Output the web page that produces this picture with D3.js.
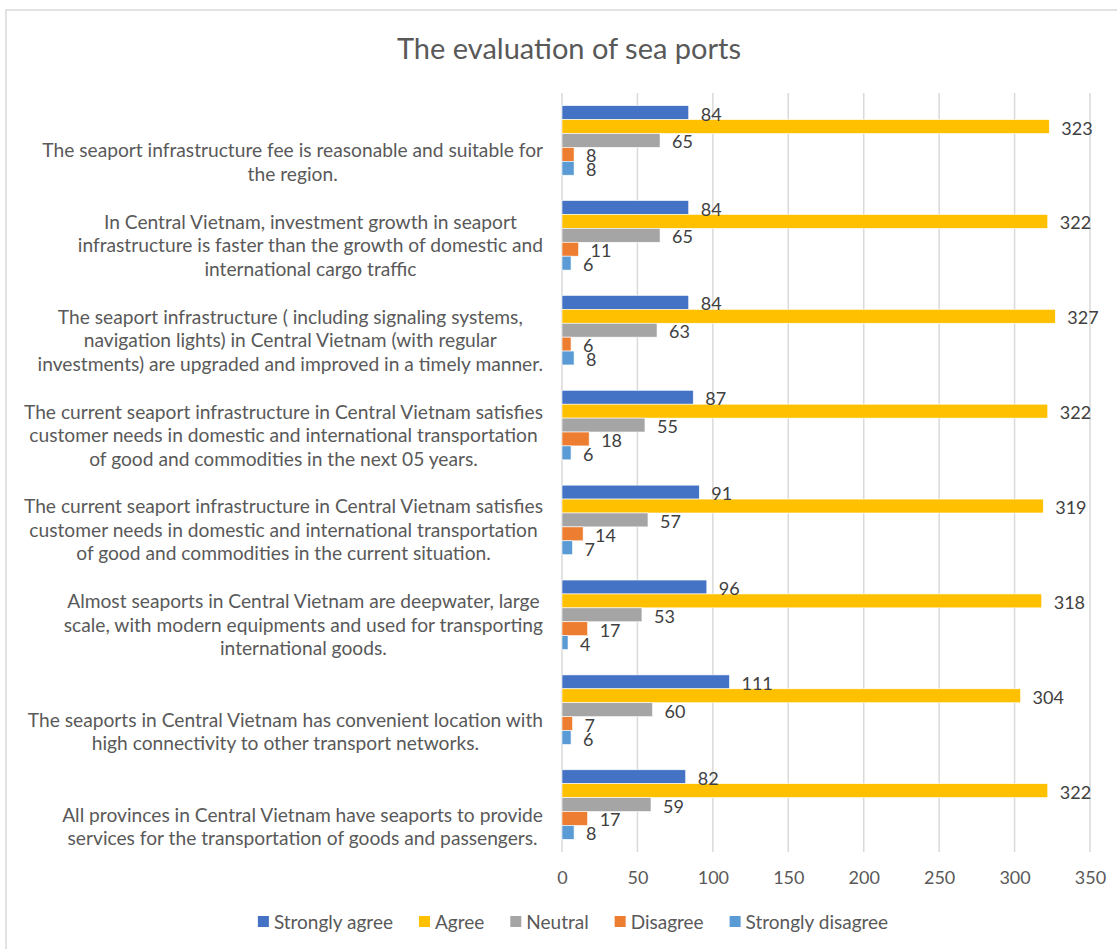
<!DOCTYPE html>
<html>
<head>
<meta charset="utf-8">
<script src="https://cdn.jsdelivr.net/npm/d3@7/dist/d3.min.js"></script>
<style>
  html, body { margin: 0; padding: 0; background: #fff; }
  svg { display: block; }
  text { font-family: Lato, "Open Sans", sans-serif; fill: #595959; }
</style>
</head>
<body>
<svg id="chart" width="1117" height="949"></svg>
<script>
// Survey statements, listed top to bottom, each split into its display lines
const categoryLines = [
  ["The seaport infrastructure fee is reasonable and suitable for", "the region."],
  ["In Central Vietnam, investment growth in seaport", "infrastructure is faster than the growth of domestic and", "international cargo traffic"],
  ["The seaport infrastructure ( including signaling systems,", "navigation lights) in Central Vietnam (with regular", "investments) are upgraded and improved in a timely manner."],
  ["The current seaport infrastructure in Central Vietnam satisfies", "customer needs in domestic and international transportation", "of good and commodities in the next 05 years."],
  ["The current seaport infrastructure in Central Vietnam satisfies", "customer needs in domestic and international transportation", "of good and commodities in the current situation."],
  ["Almost seaports in Central Vietnam are deepwater, large", "scale, with modern equipments and used for transporting", "international goods."],
  ["The seaports in Central Vietnam has convenient location with", "high connectivity to other transport networks."],
  ["All provinces in Central Vietnam have seaports to provide", "services for the transportation of goods and passengers."]
];

const seriesNames = ["Strongly agree", "Agree", "Neutral", "Disagree", "Strongly disagree"];
const seriesColors = ["#4472C4", "#FFC000", "#A5A5A5", "#ED7D31", "#5B9BD5"];

// Response counts per statement (same order as categoryLines)
const stronglyAgree    = [84, 84, 84, 87, 91, 96, 111, 82];
const agree            = [323, 322, 327, 322, 319, 318, 304, 322];
const neutral          = [65, 65, 63, 55, 57, 53, 60, 59];
const disagree         = [8, 11, 6, 18, 14, 17, 7, 17];
const stronglyDisagree = [8, 6, 8, 6, 7, 4, 6, 8];

const xTicks = [0, 50, 100, 150, 200, 250, 300, 350];
const chartTitle = "The evaluation of sea ports";

const seriesValues = [stronglyAgree, agree, neutral, disagree, stronglyDisagree];

const svg = d3.select("#chart");

// Chart frame
svg.append("rect")
  .attr("x", 6).attr("y", 10)
  .attr("width", 1200).attr("height", 1000)
  .attr("fill", "#fff")
  .attr("stroke", "#d9d9d9").attr("stroke-width", 1.5);

const plot = { left: 562, right: 1090, top: 93, bottom: 852 };

const x = d3.scaleLinear().domain([0, 350]).range([plot.left, plot.right]);

const gapRatio = 1.82; // gap between groups relative to a single bar
const idx = d3.range(categoryLines.length);
const y0 = d3.scaleBand()
  .domain(idx)
  .range([plot.top, plot.bottom])
  .paddingInner(gapRatio / (5 + gapRatio))
  .paddingOuter(gapRatio / 2 / (5 + gapRatio));
const y1 = d3.scaleBand()
  .domain(d3.range(seriesNames.length))
  .range([0, y0.bandwidth()]);

// Title
svg.append("text")
  .attr("x", 569).attr("y", 47)
  .attr("text-anchor", "middle")
  .attr("dominant-baseline", "central")
  .style("font-size", "29px")
  .style("font-weight", 400)
  .text(chartTitle);

// Vertical gridlines
svg.append("g")
  .selectAll("line")
  .data(xTicks)
  .join("line")
  .attr("x1", d => x(d)).attr("x2", d => x(d))
  .attr("y1", plot.top).attr("y2", plot.bottom)
  .attr("stroke", "#d9d9d9").attr("stroke-width", 1.5);

// X axis tick labels
const xAxis = d3.axisBottom(x).tickValues(xTicks).tickSize(0).tickPadding(0);
const gx = svg.append("g")
  .attr("transform", `translate(0,${plot.bottom})`)
  .call(xAxis);
gx.select(".domain").remove();
gx.selectAll("text")
  .attr("y", 25)
  .attr("dy", null)
  .attr("dominant-baseline", "central")
  .style("font-size", "18px")
  .style("font-family", "Lato, sans-serif")
  .attr("fill", "#595959");

// Bars and value labels
const groups = svg.append("g")
  .selectAll("g")
  .data(idx)
  .join("g")
  .attr("transform", i => `translate(0,${y0(i)})`);

groups.selectAll("rect")
  .data(i => seriesValues.map((vals, s) => ({ s, v: vals[i] })))
  .join("rect")
  .attr("x", x(0))
  .attr("y", d => y1(d.s))
  .attr("width", d => x(d.v) - x(0))
  .attr("height", y1.bandwidth())
  .attr("fill", d => seriesColors[d.s])
  .attr("stroke", "#ffffff")
  .attr("stroke-width", 0.6);

groups.selectAll("text")
  .data(i => seriesValues.map((vals, s) => ({ s, v: vals[i] })))
  .join("text")
  .attr("x", d => x(d.v) + 12)
  .attr("y", d => y1(d.s) + y1.bandwidth() / 2 + 1)
  .attr("dominant-baseline", "central")
  .style("font-size", "18px")
  .style("fill", "#404040")
  .text(d => d.v);

// Category labels: right-aligned block, lines centred within it, bottom-aligned to the group
const labelRight = 543;
const lineStep = 23.5;
const labelG = svg.append("g");
idx.forEach(i => {
  const lines = categoryLines[i];
  const g = labelG.append("g");
  const texts = g.selectAll("text")
    .data(lines)
    .join("text")
    .attr("text-anchor", "middle")
    .attr("dominant-baseline", "central")
    .style("font-size", "19.2px")
    .text(d => d);
  const widths = [];
  texts.each(function () { widths.push(this.getComputedTextLength()); });
  const blockW = d3.max(widths);
  const cx = labelRight - blockW / 2;
  const bottomY = y0(i) + y0.bandwidth() / 2 + 33;
  texts
    .attr("x", cx)
    .attr("y", (d, k) => bottomY - (lines.length - 1 - k) * lineStep);
});

// Legend
const legend = svg.append("g");
let lx = 0;
seriesNames.forEach((name, s) => {
  const item = legend.append("g").attr("transform", `translate(${lx},0)`);
  item.append("rect")
    .attr("x", 0).attr("y", -5.5)
    .attr("width", 11).attr("height", 11)
    .attr("fill", seriesColors[s]);
  const t = item.append("text")
    .attr("x", 16).attr("y", 0)
    .attr("dominant-baseline", "central")
    .style("font-size", "19px")
    .text(name);
  lx += 16 + t.node().getComputedTextLength() + 26;
});
const legendW = lx - 26;
legend.attr("transform", `translate(${573 - legendW / 2},921.5)`);
</script>
</body>
</html>
